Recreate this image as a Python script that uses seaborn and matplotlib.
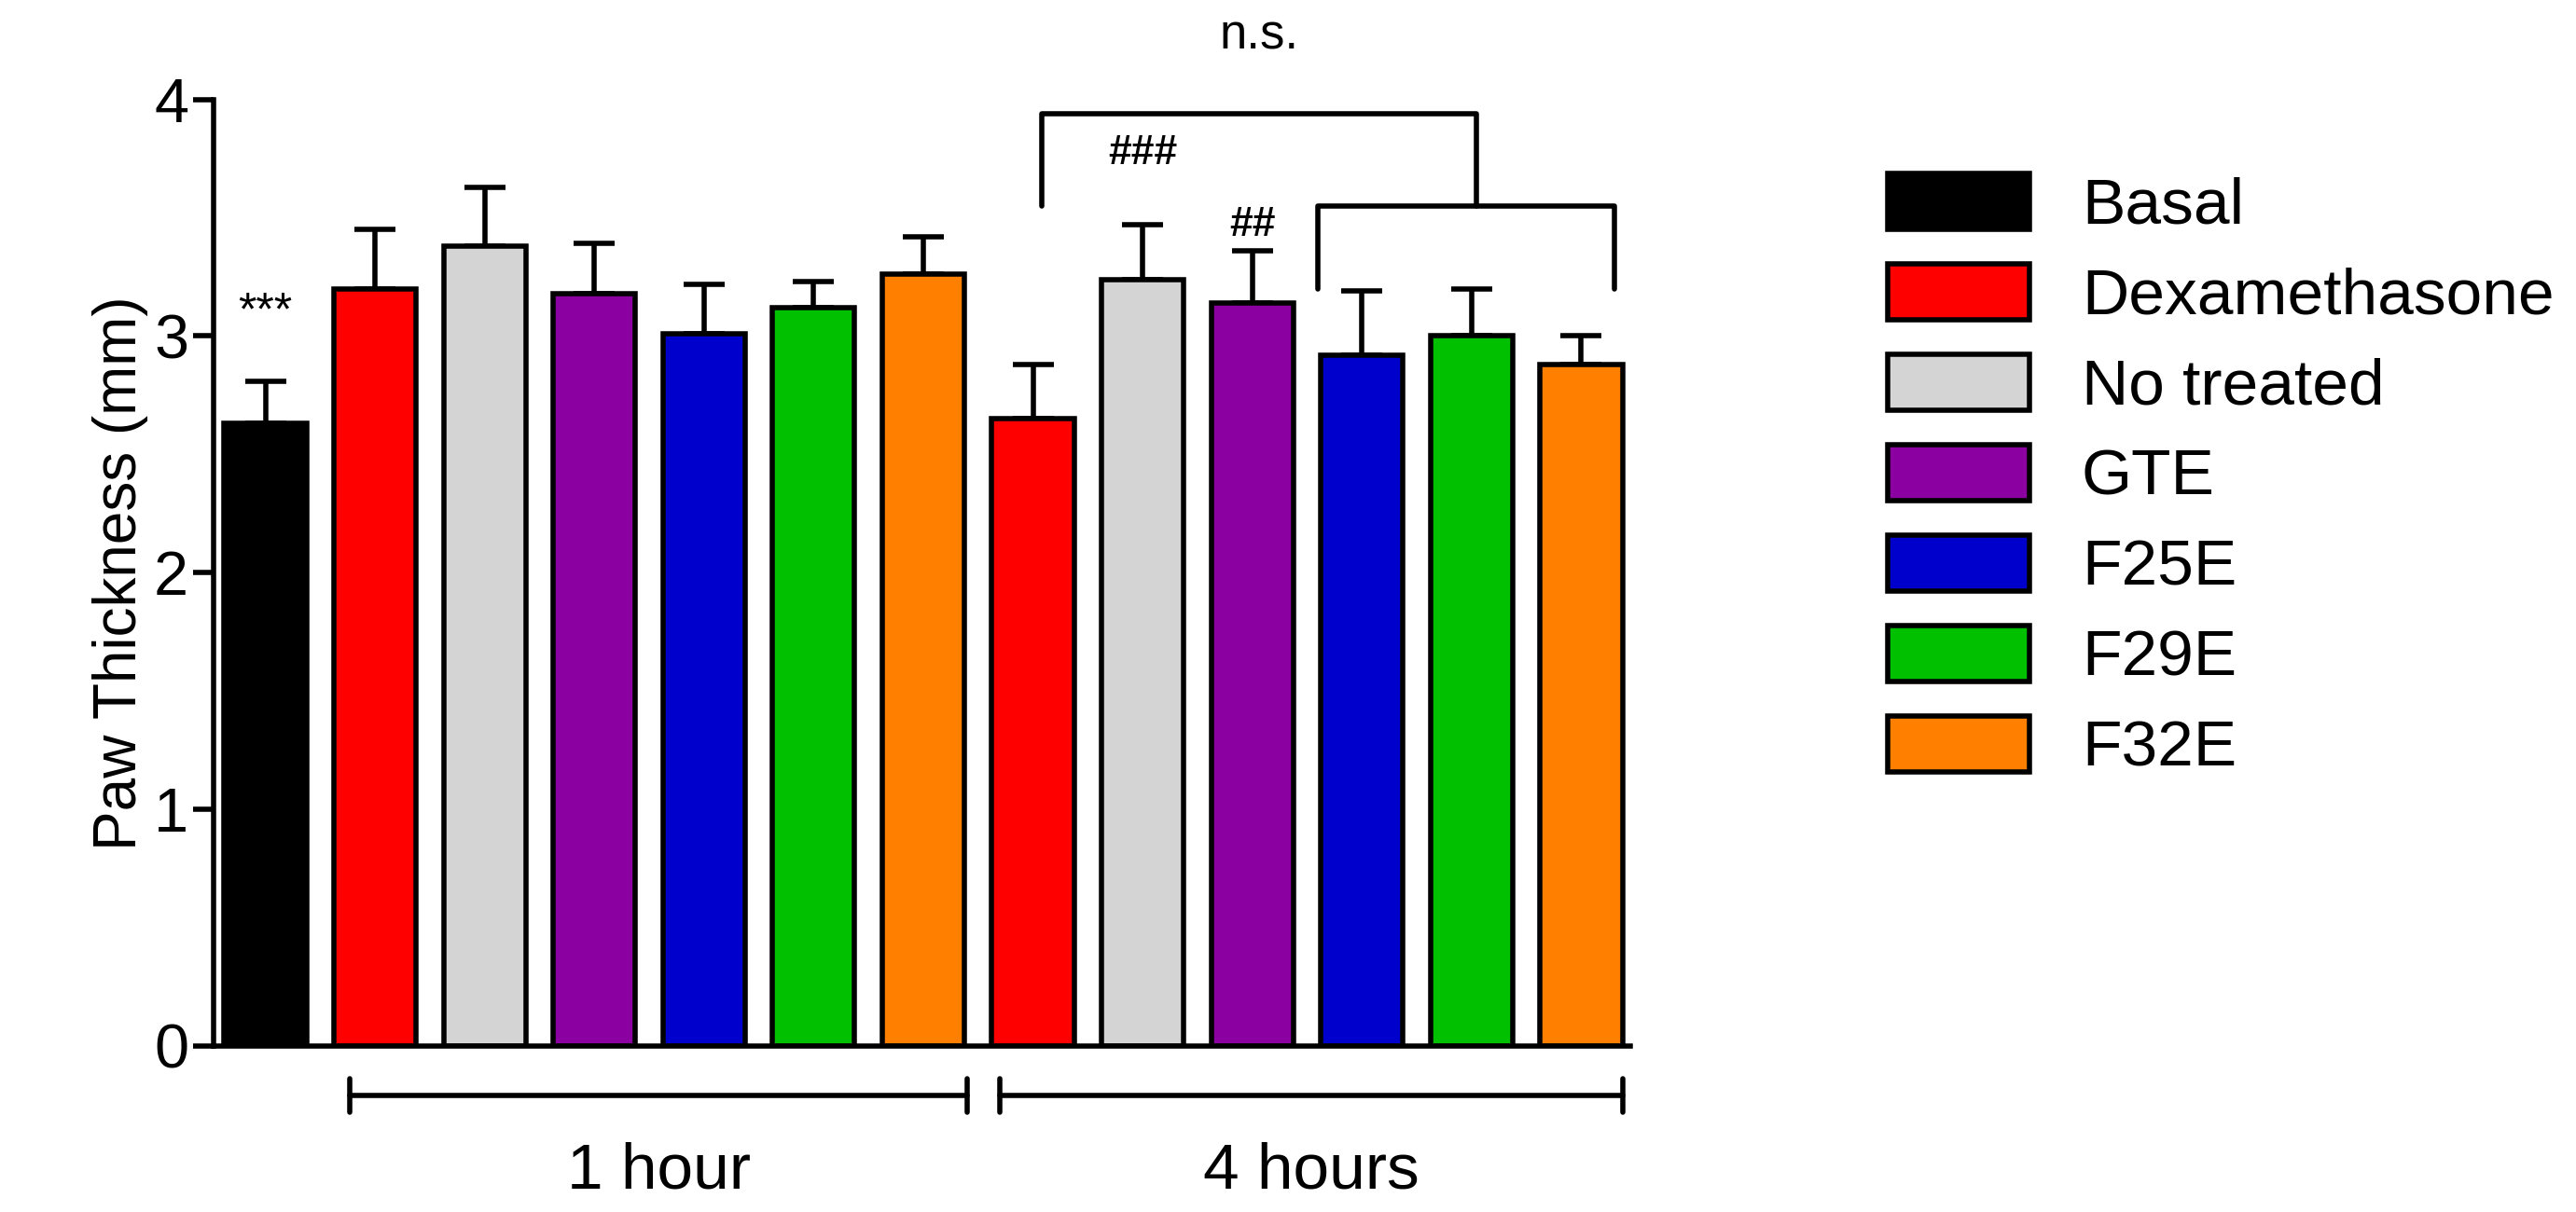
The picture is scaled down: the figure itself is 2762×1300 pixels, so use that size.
import pandas as pd
import numpy as np
import seaborn as sns
import matplotlib.pyplot as plt
from matplotlib.patches import Patch

groups = ['Basal', 'Dexamethasone', 'No treated', 'GTE', 'F25E', 'F29E', 'F32E']
colors = ['#000000', '#ff0000', '#d4d4d4', '#8b00a0', '#0000cc', '#00c000', '#ff8000']

bar_group = ['Basal',
             'Dexamethasone', 'No treated', 'GTE', 'F25E', 'F29E', 'F32E',
             'Dexamethasone', 'No treated', 'GTE', 'F25E', 'F29E', 'F32E']
means = [2.63, 3.20, 3.38, 3.18, 3.01, 3.12, 3.26, 2.65, 3.24, 3.14, 2.92, 3.00, 2.88]
errs = [0.18, 0.25, 0.25, 0.21, 0.21, 0.11, 0.16, 0.23, 0.23, 0.22, 0.27, 0.20, 0.12]

sns.set_style('ticks')
plt.rcParams['font.family'] = ['Liberation Sans', 'DejaVu Sans']
plt.rcParams['text.color'] = 'black'
plt.rcParams['axes.labelcolor'] = 'black'
plt.rcParams['ytick.color'] = 'black'

df = pd.DataFrame({'pos': range(len(means)), 'mean': means, 'group': bar_group})
pal = [colors[groups.index(g)] for g in bar_group]

fig = plt.figure(figsize=(27.62, 13), dpi=100)
ax = fig.add_axes([0.083, 0.137, 0.55, 0.781])
sns.barplot(data=df, x='pos', y='mean', hue='pos', palette=pal, legend=False, saturation=1,
            width=0.75, edgecolor='black', linewidth=4, ax=ax, errorbar=None)
ax.errorbar(df['pos'], means, yerr=[np.zeros(len(errs)), errs], fmt='none',
            ecolor='black', elinewidth=4, capsize=16, capthick=4, zorder=0)

ax.set_xlim(-0.47, 12.45)
ax.set_ylim(0, 4)
ax.set_yticks([0, 1, 2, 3, 4])
ax.set_xticks([])
ax.set_xlabel('')
ax.set_ylabel('Paw Thickness (mm)', fontsize=46)
ax.tick_params(axis='y', labelsize=48, width=4, length=16)
for s in ['left', 'bottom']:
    ax.spines[s].set_linewidth(4)
    ax.spines[s].set_color('black')
sns.despine(ax=ax)

kw = dict(color='black', lw=4, clip_on=False)
# time brackets under the axis
for x0, x1, lab in [(0.77, 6.4, '1 hour'), (6.7, 12.38, '4 hours')]:
    ax.plot([x0, x1], [-0.21, -0.21], **kw)
    ax.plot([x0, x0], [-0.14, -0.28], **kw)
    ax.plot([x1, x1], [-0.14, -0.28], **kw)
    ax.text((x0 + x1) / 2, -0.53, lab, ha='center', va='center', fontsize=50)

# significance brackets
ax.plot([7.08, 7.08, 11.04, 11.04], [3.55, 3.94, 3.94, 3.55], **kw)
ax.plot([9.6, 9.6, 12.3, 12.3], [3.2, 3.55, 3.55, 3.2], **kw)
ax.text(9.06, 4.27, 'n.s.', ha='center', va='center', fontsize=38)
ax.text(0, 3.1, '***', ha='center', va='center', fontsize=36)
ax.text(8, 3.77, '###', ha='center', va='center', fontsize=32, fontweight='bold')
ax.text(9, 3.47, '##', ha='center', va='center', fontsize=32, fontweight='bold')

handles = [Patch(facecolor=c, edgecolor='black', linewidth=4) for c in colors]
fig.legend(handles, groups, loc='upper left', bbox_to_anchor=(0.71, 0.905),
           frameon=False, fontsize=50, handlelength=2.2, handleheight=0.95,
           labelspacing=0.42, handletextpad=0.8)

fig.savefig('out.png', dpi=100)
